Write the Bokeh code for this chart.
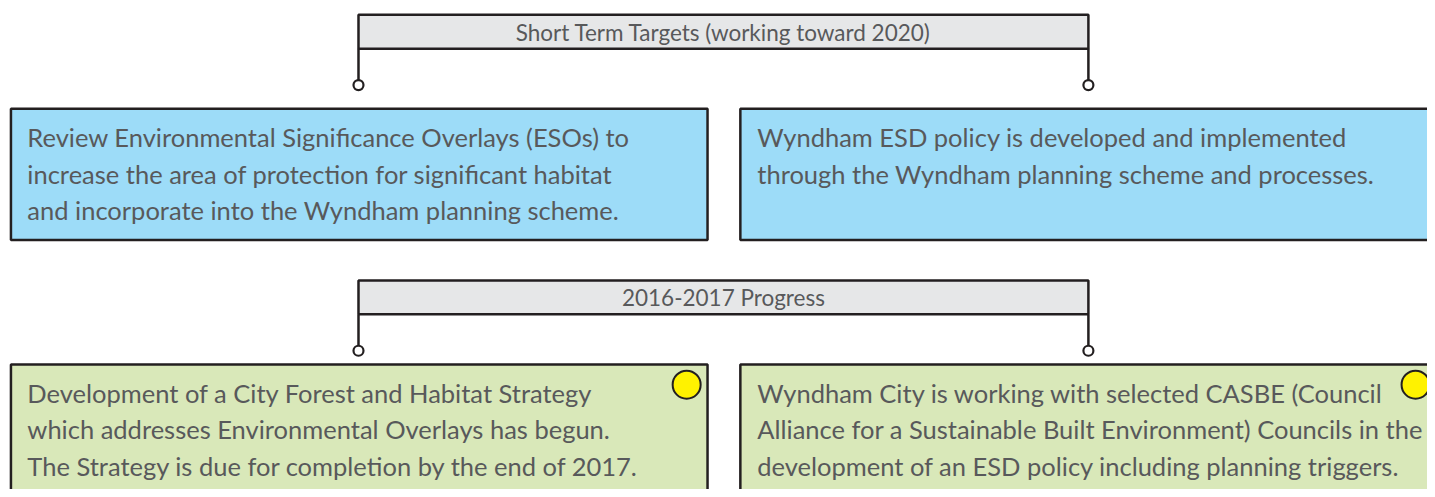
from bokeh.plotting import figure
from bokeh.models import Range1d
from bokeh.core.properties import value
from bokeh.embed import file_html
from bokeh.resources import INLINE

# ---- content ----
section_titles = ["Short Term Targets (working toward 2020)", "2016-2017 Progress"]
target_texts = [
    ["Review Environmental Significance Overlays (ESOs) to",
     "increase the area of protection for significant habitat",
     "and incorporate into the Wyndham planning scheme."],
    ["Wyndham ESD policy is developed and implemented",
     "through the Wyndham planning scheme and processes."],
]
progress_texts = [
    ["Development of a City Forest and Habitat Strategy",
     "which addresses Environmental Overlays has begun.",
     "The Strategy is due for completion by the end of 2017."],
    ["Wyndham City is working with selected CASBE (Council",
     "Alliance for a Sustainable Built Environment) Councils in the",
     "development of an ESD policy including planning triggers."],
]
progress_status = ["yellow", "yellow"]

# ---- styles ----
BORDER = "#231f20"
TEXT = "#58595b"
HEADER_FILL = "#e6e7e8"
BLUE = "#9ddcf8"
GREEN = "#d9e8b9"
STATUS = {"yellow": "#fff200"}

FONT = value("Lato")

W, H = 1427, 489
p = figure(width=W, height=H, output_backend="svg", toolbar_location=None,
           x_range=Range1d(0, 1435), y_range=Range1d(497, 0),
           min_border=0, outline_line_color=None)
p.axis.visible = False
p.grid.visible = False
p.background_fill_color = "white"
p.border_fill_color = "white"

# layout
hdr_left, hdr_right = 360, 1094
col_left = [10.5, 744]
col_right = [711, 1460]
text_x = [27, 761]
row_hdr_top = [14.5, 284.5]
row_hdr_bot = [49, 319]
row_box_top = [110, 370]
row_box_bot = [243.5, 520]
row_mid = [139, 399]
line_gap = 37
fills = [BLUE, GREEN]
rows = [target_texts, progress_texts]

for r in range(2):
    # header bar
    p.quad(left=[hdr_left], right=[hdr_right], top=[row_hdr_top[r]], bottom=[row_hdr_bot[r]],
           fill_color=HEADER_FILL, line_color=BORDER, line_width=2.5)
    p.text(x=[(hdr_left + hdr_right) / 2], y=[(row_hdr_top[r] + row_hdr_bot[r]) / 2 + 0.5],
           text=[section_titles[r]], text_font=FONT, text_font_size="22.5px",
           text_color=TEXT, text_align="center", text_baseline="middle")
    # connectors
    cy = row_hdr_bot[r] + 37
    for cx in (hdr_left, hdr_right):
        p.segment(x0=[cx], y0=[row_hdr_bot[r]], x1=[cx], y1=[cy - 5], line_color=BORDER, line_width=2.5)
    p.scatter(x=[hdr_left, hdr_right], y=[cy, cy], size=10, marker="circle",
              fill_color="white", line_color=BORDER, line_width=2.2)
    # boxes
    for c in range(2):
        p.quad(left=[col_left[c]], right=[col_right[c]], top=[row_box_top[r]], bottom=[row_box_bot[r]],
               fill_color=fills[r], line_color=BORDER, line_width=2.5)
        lines = rows[r][c]
        p.text(x=[text_x[c]] * len(lines), y=[row_mid[r] + i * line_gap for i in range(len(lines))],
               text=lines, text_font=FONT, text_font_size="25.5px", text_color=TEXT,
               text_align="left", text_baseline="middle")

# status dots
dot_x = [col_right[0] - 21, 1423]
p.scatter(x=dot_x, y=[row_box_top[1] + 20.5] * 2, size=28, marker="circle",
          fill_color=[STATUS[s] for s in progress_status], line_color=BORDER, line_width=2)

open("out.html", "w").write(file_html(p, INLINE))
